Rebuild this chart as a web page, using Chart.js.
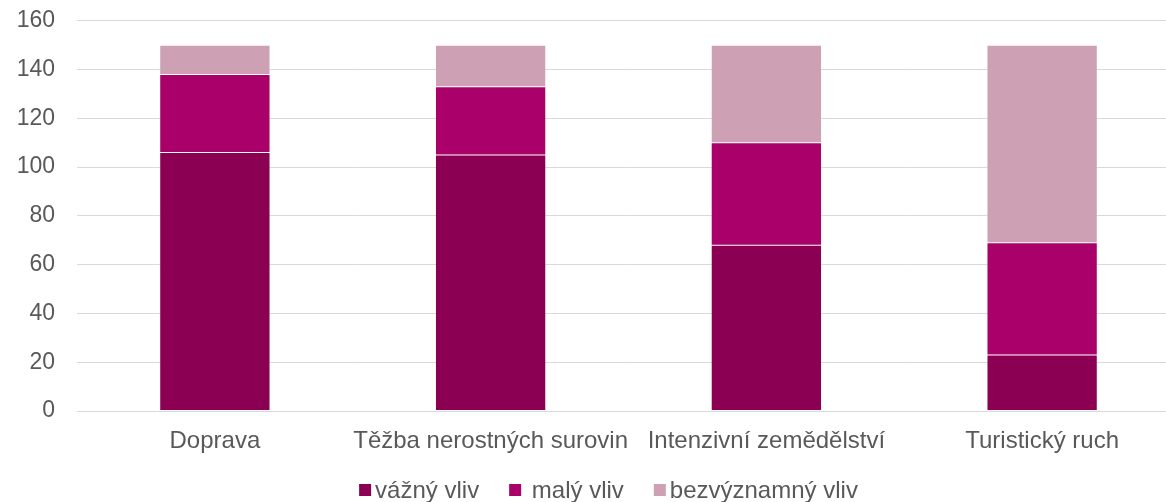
<!DOCTYPE html>
<html>
<head>
<meta charset="utf-8">
<script src="https://cdn.jsdelivr.net/npm/chart.js@4.4.1/dist/chart.umd.min.js"></script>
<style>
    html, body { margin: 0; padding: 0; background: #fff; overflow: hidden; }
    #wrap { width: 1180px; height: 517px; margin-top: -15px; }
</style>
</head>
<body>
<div id="wrap"><canvas id="chart"></canvas></div>
<script>
// Chart data
var categories = ['Doprava', 'Těžba nerostných surovin', 'Intenzivní zemědělství', 'Turistický ruch'];
var seriesNames = ['vážný vliv', ' malý vliv', 'bezvýznamný vliv'];
var seriousValues = [106, 105, 68, 23];
var smallValues = [32, 28, 42, 46];
var minorValues = [12, 17, 40, 81];
var seriesColors = ['#8B0052', '#AA006A', '#CDA0B4'];

var textColor = '#595959';
var fontFamily = '"Liberation Sans", Arial, sans-serif';

function makeDataset(i, values) {
    return {
        label: seriesNames[i],
        data: values,
        backgroundColor: seriesColors[i],
        borderColor: 'rgba(255,255,255,0.22)',
        borderWidth: 1,
        borderSkipped: false,
        inflateAmount: 0.5,
        categoryPercentage: 1,
        barPercentage: 0.4
    };
}

// Legend drawn by hand: small squares, tight gap between square and text
var bottomLegend = {
    id: 'bottomLegend',
    afterDraw: function(chart) {
        var ctx = chart.ctx;
        var sets = chart.data.datasets;
        var box = 12, gap = 4, itemGap = 30;
        ctx.save();
        ctx.font = '24px ' + fontFamily;
        var widths = [];
        var total = 0;
        for (var i = 0; i < sets.length; i++) {
            widths[i] = ctx.measureText(sets[i].label).width;
            total += box + gap + widths[i];
        }
        total += itemGap * (sets.length - 1);
        var x = (chart.chartArea.left + chart.chartArea.right) / 2 - 20 - total / 2;
        var y = 505;
        ctx.textBaseline = 'middle';
        ctx.textAlign = 'left';
        for (var j = 0; j < sets.length; j++) {
            ctx.fillStyle = sets[j].backgroundColor;
            ctx.fillRect(x, y - box / 2, box, box);
            ctx.fillStyle = textColor;
            ctx.fillText(sets[j].label, x + box + gap, y + 1);
            x += box + gap + widths[j] + itemGap;
        }
        ctx.restore();
    }
};

var canvas = document.getElementById('chart');
canvas.width = 1180;
canvas.height = 517;
canvas.style.width = '1180px';
canvas.style.height = '517px';

new Chart(canvas, {
    type: 'bar',
    data: {
        labels: categories,
        datasets: [
            makeDataset(0, seriousValues),
            makeDataset(1, smallValues),
            makeDataset(2, minorValues)
        ]
    },
    options: {
        responsive: false,
        maintainAspectRatio: false,
        animation: false,
        layout: { padding: { top: 0, left: 0, right: 0, bottom: 41 } },
        plugins: {
            tooltip: { enabled: false },
            legend: { display: false }
        },
        scales: {
            x: {
                stacked: true,
                grid: { display: false },
                border: { display: false },
                ticks: {
                    color: textColor,
                    font: { family: fontFamily, size: 24 },
                    padding: 8,
                    maxRotation: 0,
                    autoSkip: false
                },
                afterFit: function(scale) { scale.height = 50; }
            },
            y: {
                stacked: true,
                min: 0,
                max: 160,
                border: { display: false },
                grid: { color: '#D9D9D9', lineWidth: 1, drawTicks: false },
                ticks: {
                    stepSize: 20,
                    color: textColor,
                    font: { family: fontFamily, size: 23 },
                    padding: 22
                },
                afterFit: function(scale) { scale.width = 77; }
            }
        }
    },
    plugins: [bottomLegend]
});
</script>
</body>
</html>
